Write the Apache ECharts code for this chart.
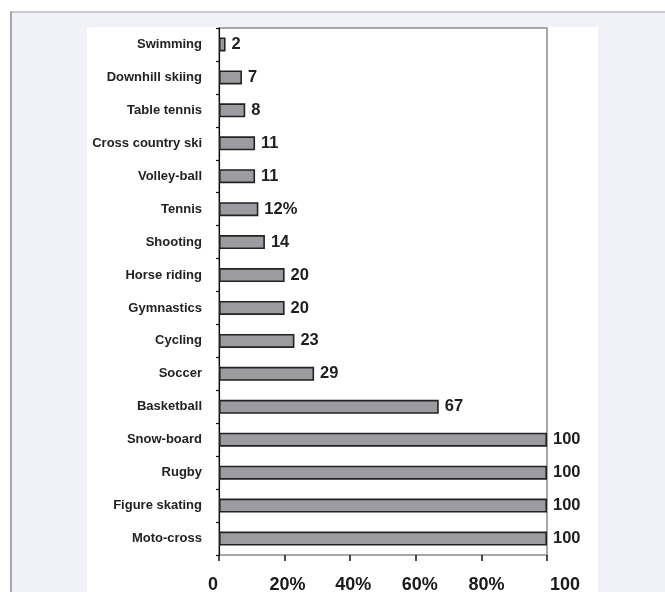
<!DOCTYPE html>
<html>
<head>
<meta charset="utf-8">
<script src="https://cdn.jsdelivr.net/npm/echarts@6/dist/echarts.min.js"></script>
<style>
html,body{margin:0;padding:0;background:#fff;}
#chart{width:665px;height:592px;}
</style>
</head>
<body>
<div id="chart"></div>
<script>
const categories = ['Swimming','Downhill skiing','Table tennis','Cross country ski','Volley-ball','Tennis','Shooting','Horse riding','Gymnastics','Cycling','Soccer','Basketball','Snow-board','Rugby','Figure skating','Moto-cross'];
const values = [2,7,8,11,11,12,14,20,20,23,29,67,100,100,100,100];
const valueSuffix = ['','','','','','%','','','','','','','','','',''];
const xTickValues = [0,20,40,60,80,100];
const xTickLabels = ['0','20%','40%','60%','80%','100'];

const FONT = '"Liberation Sans", Arial, Helvetica, sans-serif';
const chart = echarts.init(document.getElementById('chart'));
const labelRich = {};
const pads = {0:[0,12,0,0],20:[0,0,0,6],40:[0,0,0,6],60:[0,0,0,8],80:[0,0,0,10],100:[0,0,0,36]};
xTickValues.forEach(v => {
  labelRich['t' + v] = {fontSize:18, fontWeight:'bold', fontFamily:FONT, color:'#1a1a1a', padding:pads[v]};
});

chart.setOption({
  backgroundColor:'#ffffff',
  animation:false,
  graphic:[
    {type:'rect', shape:{x:11, y:12, width:660, height:590}, style:{fill:'#f1f2f8'}, z:-10},
    {type:'line', shape:{x1:10.5, y1:12, x2:665, y2:12}, style:{stroke:'#bcbdc1', lineWidth:1.5}, z:-8},
    {type:'line', shape:{x1:11, y1:11.5, x2:11, y2:592}, style:{stroke:'#8e8e92', lineWidth:1.5}, z:-8},
    {type:'rect', shape:{x:87, y:27, width:511, height:570}, style:{fill:'#ffffff'}, z:-9}
  ],
  grid:{left:219, right:118, top:28, bottom:37, outerBoundsMode:'none', containLabel:false, show:true, borderColor:'#8c8c8c', borderWidth:1.5, backgroundColor:'#ffffff'},
  xAxis:{
    type:'value', min:0, max:100, interval:20,
    axisLine:{show:false},
    axisTick:{show:true, length:6, lineStyle:{color:'#111', width:1.5}},
    splitLine:{show:false},
    axisLabel:{
      margin:21,
      formatter:function(v){ const i = xTickValues.indexOf(v); return i < 0 ? '' : '{t' + v + '|' + xTickLabels[i] + '}'; },
      rich:labelRich
    }
  },
  yAxis:{
    type:'category', data:categories, inverse:true, offset:3,
    axisLine:{show:true, lineStyle:{color:'#111', width:1.2}},
    axisTick:{show:true, length:3, lineStyle:{color:'#111', width:1.2}},
    axisLabel:{margin:14, fontSize:13, fontWeight:'bold', fontFamily:FONT, color:'#222'}
  },
  series:[{
    type:'bar', data:values, barWidth:14,
    itemStyle:{color:'#9c9ca0', borderColor:'#222', borderWidth:1.6},
    label:{show:true, position:'right', distance:6, fontSize:16.5, fontWeight:'bold', fontFamily:FONT, color:'#1e1e1e',
      formatter:function(p){ return p.value + valueSuffix[p.dataIndex]; }}
  }]
});
</script>
</body>
</html>
